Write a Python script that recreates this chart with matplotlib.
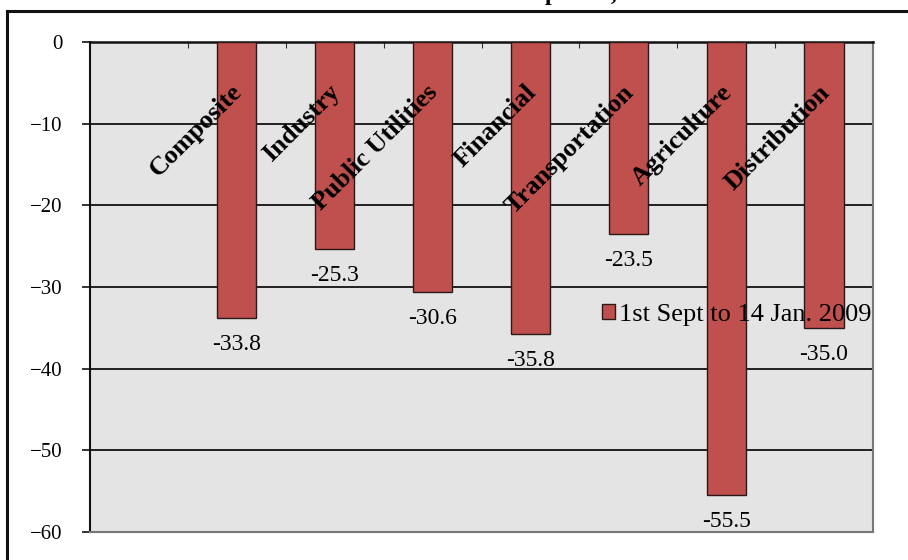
import matplotlib
matplotlib.use("Agg")
import matplotlib.pyplot as plt
from matplotlib.lines import Line2D

sectors = ["Composite", "Industry", "Public Utilities", "Financial",
           "Transportation", "Agriculture", "Distribution"]
change = [-33.8, -25.3, -30.6, -35.8, -23.5, -55.5, -35.0]
series_name = "1st Sept to 14 Jan. 2009"
yticks = [0, -10, -20, -30, -40, -50, -60]

bar_color = "#C0504D"
serif = "Liberation Serif"

fig = plt.figure(figsize=(9.08, 5.6), dpi=100)
ax = fig.add_axes([90 / 908, 1 - 532 / 560, (873 - 90) / 908, (532 - 42) / 560])
ax.set_facecolor("#e4e4e4")

# outer frame of the original slide (right / bottom edges fall outside)
fig.add_artist(Line2D([7 / 908, 7 / 908], [0, 1 - 11 / 560], transform=fig.transFigure,
                      color="#111111", lw=2.2))
fig.add_artist(Line2D([7 / 908, 1], [1 - 11 / 560, 1 - 11 / 560], transform=fig.transFigure,
                      color="#111111", lw=2.2))
# title sits above the crop, only descenders reach into the picture
fig.text(0.448, 1.0, "Fall in BSE Sectoral Indices from 1st Sept-Jan, 2009",
         ha="center", va="baseline", family=serif, weight="bold", fontsize=17)

xs = list(range(1, len(sectors) + 1))
ax.bar(xs, change, width=0.4, color=bar_color, edgecolor="#2a1818",
       linewidth=1.0, zorder=3, label=series_name)

for x, v in zip(xs, change):
    ax.annotate(f"{v:.1f}", (x, v), xytext=(0, -19), textcoords="offset points",
                ha="center", va="center", family=serif, fontsize=17, zorder=6)

for x, name in zip(xs, sectors):
    ax.text(x + 0.02, -5.7, name, rotation=45, rotation_mode="anchor",
            ha="right", va="center", family=serif, weight="bold", fontsize=19, zorder=6)

ax.set_xlim(-0.5, 7.5)
ax.set_ylim(-60, 0)
ax.set_yticks(yticks)
ax.set_yticklabels(["0" if t == 0 else f"\u2212{abs(t)}" for t in yticks],
                   family=serif, fontsize=15)
ax.tick_params(axis="y", direction="out", length=6, width=1.2, pad=14, color="#111111")

ax.set_xticks([k + 0.5 for k in range(7)])
ax.tick_params(axis="x", top=True, bottom=False, labelbottom=False, direction="in",
               length=4, width=0.8, color="#333333")

ax.grid(axis="y", color="#111111", lw=1.3, zorder=1)
ax.set_axisbelow(True)
ax.spines["left"].set_color("#111111")
ax.spines["left"].set_linewidth(1.5)
ax.spines["top"].set_color("#111111")
ax.spines["top"].set_linewidth(1.8)
ax.spines["right"].set_color("#777777")
ax.spines["right"].set_linewidth(1.5)
ax.spines["bottom"].set_color("#777777")
ax.spines["bottom"].set_linewidth(1.5)

ax.legend(loc="center left", bbox_to_anchor=(0.64, 0.443), frameon=False,
          prop={"family": serif, "size": 19}, handlelength=0.5, handleheight=0.5,
          handletextpad=0.15, borderaxespad=0)

fig.savefig("out.png", dpi=100)
